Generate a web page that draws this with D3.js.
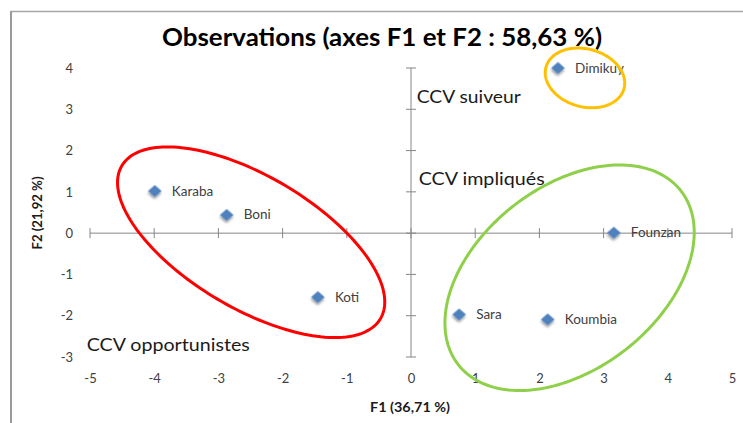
<!DOCTYPE html>
<html>
<head>
<meta charset="utf-8">
<script src="https://cdn.jsdelivr.net/npm/d3@7"></script>
<style>
	body { margin: 0; background: #fff; }
	svg { display: block; font-family: Lato, "Open Sans", sans-serif; }
</style>
</head>
<body>
<svg id="chart" width="743" height="423"></svg>
<script>
// observations (F1, F2)
var names = ["Karaba", "Boni", "Koti", "Dimikuy", "Founzan", "Sara", "Koumbia"];
var f1 = [-3.99, -2.87, -1.45, 2.29, 3.16, 0.75, 2.13];
var f2 = [1.02, 0.44, -1.55, 4.00, 0.01, -1.97, -2.09];

var xTicks = [-5, -4, -3, -2, -1, 0, 1, 2, 3, 4, 5];
var yTicks = [-3, -2, -1, 0, 1, 2, 3, 4];

// hand drawn groupings, in axis units (centre, half axes, tilt in degrees)
var groupNames = ["opportunistes", "suiveur", "impliques"];
var groupCx = [-2.49, 2.71, 2.47];
var groupCy = [-0.22, 3.76, -1.08];
var groupA = [2.34, 0.63, 2.2];
var groupB = [1.03, 0.45, 1.42];
var groupTilt = [30.6, 15.5, -38];
var groupColor = ["#ff0000", "#ffc000", "#8fd04a"];

// zone captions
var zoneText = ["CCV suiveur", "CCV impliqués", "CCV opportunistes"];
var zoneX = [0.09, 0.12, -5.05];
var zoneY = [3.15, 1.16, -2.85];
var zoneW = [104, 126, 163];

var svg = d3.select("#chart");

var x = d3.scaleLinear().domain([-5, 5]).range([90, 732]);
var y = d3.scaleLinear().domain([-3, 4]).range([357, 68]);

// chart frame (only top and left edges are visible)
svg.append("line")
	.attr("x1", 11).attr("x2", 743).attr("y1", 11.5).attr("y2", 11.5)
	.style("stroke", "#a6a6a6").style("stroke-width", 1.5);
svg.append("line")
	.attr("x1", 11).attr("x2", 11).attr("y1", 11).attr("y2", 423)
	.style("stroke", "#9a9a9a").style("stroke-width", 2);

var defs = svg.append("defs");
var shadow = defs.append("filter")
	.attr("id", "shadow")
	.attr("x", "-50%").attr("y", "-50%").attr("width", "200%").attr("height", "200%");
shadow.append("feDropShadow")
	.attr("dx", 1.5).attr("dy", 2)
	.attr("stdDeviation", 1.4)
	.attr("flood-color", "#000")
	.attr("flood-opacity", 0.4);

// title
svg.append("text")
	.attr("x", 382)
	.attr("y", 46)
	.attr("text-anchor", "middle")
	.attr("textLength", 440)
	.attr("lengthAdjust", "spacingAndGlyphs")
	.style("font-size", "25px")
	.style("font-weight", "bold")
	.style("fill", "#000")
	.text("Observations (axes F1 et F2 : 58,63 %)");

// axes crossing at the origin
var axisColor = "#868686";
var axes = svg.append("g");

axes.append("line")
	.attr("x1", x(-5)).attr("x2", x(5))
	.attr("y1", y(0)).attr("y2", y(0))
	.style("stroke", axisColor);
axes.selectAll(".xtick")
	.data(xTicks)
.enter().append("line")
	.attr("class", "xtick")
	.attr("x1", (d) => x(d)).attr("x2", (d) => x(d))
	.attr("y1", y(0) - 5).attr("y2", y(0) + 5)
	.style("stroke", axisColor);

axes.append("line")
	.attr("x1", x(0)).attr("x2", x(0))
	.attr("y1", y(-3)).attr("y2", y(4))
	.style("stroke", axisColor);
axes.selectAll(".ytick")
	.data(yTicks)
.enter().append("line")
	.attr("class", "ytick")
	.attr("x1", x(0) - 5).attr("x2", x(0) + 5)
	.attr("y1", (d) => y(d)).attr("y2", (d) => y(d))
	.style("stroke", axisColor);

// tick labels sit at the low side of the plot area, plain hyphen minus
var plain = (d) => String(d);
var xLabels = svg.append("g")
	.attr("transform", "translate(0," + y(-3) + ")")
	.call(d3.axisBottom(x).tickValues(xTicks).tickFormat(plain).tickSize(0).tickPadding(17));
var yLabels = svg.append("g")
	.attr("transform", "translate(" + (x(-5) - 17) + ",0)")
	.call(d3.axisLeft(y).tickValues(yTicks).tickFormat(plain).tickSize(0).tickPadding(0));

[xLabels, yLabels].forEach((g) => {
	g.select(".domain").remove();
	g.selectAll("text")
		.style("font-family", "Lato, sans-serif")
		.style("font-size", "13px")
		.style("fill", "#404040");
});

// axis titles
svg.append("text")
	.attr("x", 410)
	.attr("y", 412)
	.attr("text-anchor", "middle")
	.attr("textLength", 80)
	.attr("lengthAdjust", "spacingAndGlyphs")
	.style("font-size", "13px")
	.style("font-weight", "bold")
	.style("fill", "#1a1a1a")
	.text("F1 (36,71 %)");

svg.append("text")
	.attr("transform", "translate(42,213) rotate(-90)")
	.attr("text-anchor", "middle")
	.attr("textLength", 73)
	.attr("lengthAdjust", "spacingAndGlyphs")
	.style("font-size", "13px")
	.style("font-weight", "bold")
	.style("fill", "#1a1a1a")
	.text("F2 (21,92 %)");

// zone captions
svg.selectAll(".zone")
	.data(zoneText)
.enter().append("text")
	.attr("class", "zone")
	.attr("x", (d, i) => x(zoneX[i]))
	.attr("y", (d, i) => y(zoneY[i]))
	.attr("textLength", (d, i) => zoneW[i])
	.attr("lengthAdjust", "spacingAndGlyphs")
	.style("font-size", "17px")
	.style("fill", "#1a1a1a")
	.text((d) => d);

// points
var points = svg.selectAll(".obs")
	.data(names)
.enter().append("g")
	.attr("class", "obs")
	.attr("transform", (d, i) => "translate(" + x(f1[i]) + "," + y(f2[i]) + ")");

points.append("path")
	.attr("d", d3.symbol(d3.symbolSquare, 92))
	.attr("transform", "scale(1,0.88) rotate(45)")
	.attr("filter", "url(#shadow)")
	.style("fill", "#4f81bd");

points.append("text")
	.attr("x", 17)
	.attr("y", 4.5)
	.style("font-size", "13.5px")
	.style("fill", "#404040")
	.text((d) => d);

// grouping ellipses drawn on top
var k = x(1) - x(0);
var ellipseLine = d3.line().curve(d3.curveLinearClosed);

svg.selectAll(".group")
	.data(groupNames)
.enter().append("path")
	.attr("class", "group")
	.attr("d", (d, i) => {
		var cx = x(groupCx[i]);
		var cy = y(groupCy[i]);
		var a = groupA[i] * k;
		var b = groupB[i] * k;
		var th = groupTilt[i] * Math.PI / 180;
		var pts = d3.range(0, 2 * Math.PI, Math.PI / 90).map((t) => {
			return [cx + a * Math.cos(t) * Math.cos(th) - b * Math.sin(t) * Math.sin(th),
				cy + a * Math.cos(t) * Math.sin(th) + b * Math.sin(t) * Math.cos(th)];
		});
		return ellipseLine(pts);
	})
	.style("fill", "none")
	.style("stroke", (d, i) => groupColor[i])
	.style("stroke-width", 3);
</script>
</body>
</html>
